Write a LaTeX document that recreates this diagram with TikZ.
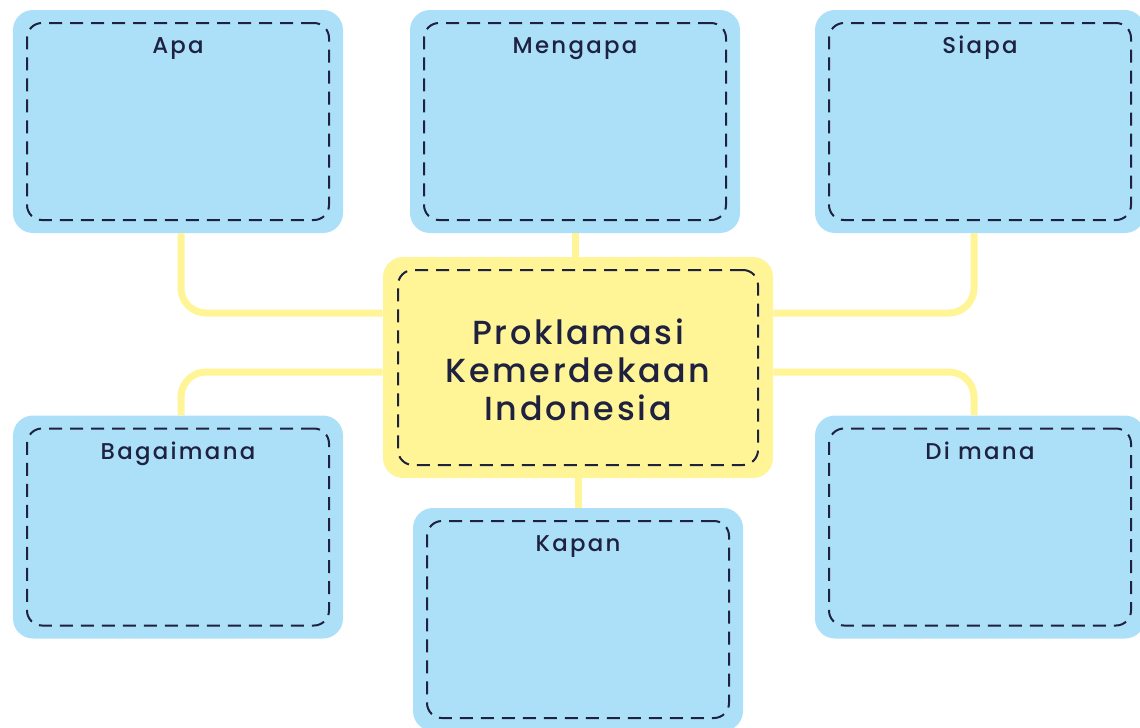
\documentclass[tikz,border=0pt]{standalone}
\usepackage{fontspec}
\setmainfont{Poppins}[UprightFont=* Medium]
\newfontfamily\hurufjudul{Poppins}[UprightFont=* Medium,LetterSpace=10]
\newfontfamily\hurufpusat{Poppins}[UprightFont=* Medium,LetterSpace=8]
\usetikzlibrary{backgrounds}
\definecolor{biru}{RGB}{172,224,248}
\definecolor{kuning}{RGB}{255,245,150}
\definecolor{tinta}{RGB}{30,33,64}

\begin{document}
\begin{tikzpicture}
\tikzstyle{lien}=[kuning,line width=0.14cm,rounded corners=0.5cm]
\tikzset{kotak/.style={fill=#1,rounded corners=0.4cm,minimum width=6.6cm,minimum height=4.46cm,inner sep=0pt},
kotak/.default={biru},
garis/.style={draw=tinta,line width=0.04cm,dash pattern=on 0.26cm off 0.16cm,rounded corners=0.3cm,minimum width=6.04cm,minimum height=3.94cm,inner sep=0pt},
judul/.style={text=tinta,font=\hurufjudul\fontsize{13}{15}\selectfont,anchor=base}}
\useasboundingbox (0,0) rectangle (22.8,-14.54);
\clip (0,0) rectangle (22.8,-14.54);

% kotak pertanyaan
\node[kotak] (apa) at (3.56,-2.43) {};
\node[kotak] (mengapa) at (11.50,-2.43) {};
\node[kotak] (siapa) at (19.60,-2.43) {};
\node[kotak] (bagaimana) at (3.56,-10.54) {};
\node[kotak] (kapan) at (11.56,-12.39) {};
\node[kotak] (dimana) at (19.60,-10.54) {};
\node[kotak=kuning,minimum width=7.8cm,minimum height=4.42cm] (pusat) at (11.56,-7.35) {};

\node[garis] (apa-g) at (apa.center) {};
\node[garis] (mengapa-g) at (mengapa.center) {};
\node[garis] (siapa-g) at (siapa.center) {};
\node[garis] (bagaimana-g) at (bagaimana.center) {};
\node[garis] (kapan-g) at (kapan.center) {};
\node[garis] (dimana-g) at (dimana.center) {};
\node[garis,minimum width=7.2cm,minimum height=3.9cm] (pusat-g) at (pusat.center) {};

\node[judul] (apa-t) at ([yshift=-0.88cm]apa.north) {Apa};
\node[judul] (mengapa-t) at ([yshift=-0.88cm]mengapa.north) {Mengapa};
\node[judul] (siapa-t) at ([yshift=-0.88cm]siapa.north) {Siapa};
\node[judul] (bagaimana-t) at ([yshift=-0.88cm]bagaimana.north) {Bagaimana};
\node[judul] (kapan-t) at ([yshift=-0.88cm]kapan.north) {Kapan};
\node[judul] (dimana-t) at ([yshift=-0.88cm]dimana.north) {Di mana};
\node[text=tinta,align=center,font=\hurufpusat\fontsize{19}{21.5}\selectfont] (pusat-t) at ([yshift=-0.05cm]pusat.center) {Proklamasi\\Kemerdekaan\\Indonesia};

\begin{scope}[on background layer]
\draw[lien] ([xshift=0.06cm]apa.south) |- ([yshift=1.09cm]pusat.west);
\draw[lien] ([xshift=-0.12cm]siapa.south) |- ([yshift=1.09cm]pusat.east);
\draw[lien] ([yshift=-0.09cm]pusat.west) -| ([xshift=0.06cm]bagaimana.north);
\draw[lien] ([yshift=-0.09cm]pusat.east) -| ([xshift=-0.12cm]dimana.north);
\draw[lien] (pusat.north -| mengapa.south) -- (mengapa.south);
\draw[lien] (pusat.south) -- (kapan.north);
\end{scope}
\end{tikzpicture}
\end{document}
